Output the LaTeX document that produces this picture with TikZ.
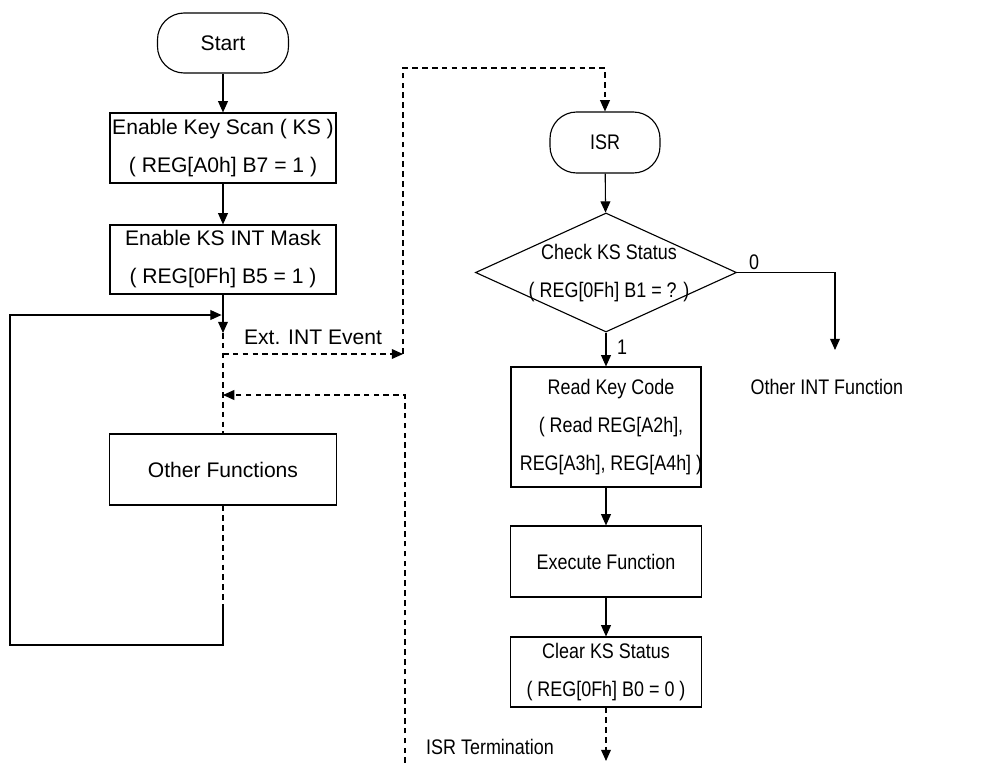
\documentclass[tikz,border=0pt]{standalone}
\usepackage{fontspec}
\setmainfont{Liberation Sans}
\newfontfamily\narrowfont[FakeStretch=0.85]{Liberation Sans}
\usetikzlibrary{arrows.meta,shapes.geometric}

\begin{document}
\begin{tikzpicture}[x=0.025cm,y=-0.025cm,line width=0.8pt,
    >={Triangle[length=8pt,width=7pt]},
    every node/.style={font=\fontsize{15}{27}\selectfont},
    narrow/.style={font=\narrowfont\fontsize{15}{27}\selectfont},
    proc/.style={draw,rectangle,align=center,inner sep=0pt},
    term/.style={draw,rounded corners=19pt,inner sep=0pt},
    dsh/.style={dash pattern=on 4pt off 3pt}]

    \useasboundingbox (0,0) rectangle (1001,763);

    % Main program
    \node[term,minimum width=3.275cm,minimum height=1.5cm] (start) at (223,43) {Start};
    \node[proc,minimum width=5.65cm,minimum height=1.75cm] (ks) at (223,148)
        {Enable Key Scan ( KS )\\( REG[A0h] B7 = 1 )};
    \node[proc,minimum width=5.65cm,minimum height=1.725cm] (mask) at (223,259.5)
        {Enable KS INT Mask\\( REG[0Fh] B5 = 1 )};
    \node[proc,minimum width=5.675cm,minimum height=1.775cm] (other) at (223,469.5)
        {Other Functions};

    \draw[->] (start) -- (ks);
    \draw[->] (ks) -- (mask);

    \coordinate (evt) at (223,333);
    \coordinate (lend) at (223,605);
    \coordinate (join) at (223,315);
    \draw[->] (mask) -- (evt);
    \draw[dsh] (evt) -- (other);
    \draw[dsh] (other) -- (lend);

    % Main loop
    \draw[->] (lend) -- (223,645) -| (10,315) -- ([xshift=-1pt]join);

    % Interrupt event and return
    \coordinate (extL) at (223,354);
    \coordinate (extR) at (403,354);
    \node (extlbl) at (313,337) {Ext. INT Event};
    \draw[dsh,->] (extL) -- (extR);

    \coordinate (retB) at (405,763);
    \coordinate (retR) at (405,395);
    \coordinate (retL) at (223,395);
    \draw[dsh,->] (retB) -- (retR) -- (retL);

    % ISR
    \node[term,narrow,minimum width=2.75cm,minimum height=1.525cm] (isr) at (605,142.5) {ISR};
    \draw[dsh,->] (extR) -- (403,68) -| (isr.north);

    \node[draw,diamond,inner sep=0pt,minimum width=6.525cm,minimum height=2.975cm] (check) at (606,272.5) {};
    \node[narrow,align=center,inner sep=0pt] (checktxt) at (609,273) {Check KS Status\\( REG[0Fh] B1 = ? )};
    \node[proc,minimum width=4.75cm,minimum height=3cm] (readkey) at (606,427) {};
    \node[narrow,align=center,inner sep=0pt] (readtxt) at (611,427)
        {Read Key Code\\( Read REG[A2h],\\REG[A3h], REG[A4h] )};
    \node[proc,narrow,minimum width=4.775cm,minimum height=1.775cm] (exec) at (606,561.5)
        {Execute Function};
    \node[proc,narrow,minimum width=4.775cm,minimum height=1.75cm] (clear) at (606,672)
        {Clear KS Status\\( REG[0Fh] B0 = 0 )};

    \draw[->] (isr) -- (check);
    \draw[->] (check) -- (readkey);
    \node[narrow] (one) at (622,347) {1};

    % Status 0 branch
    \coordinate (zr) at (835,272.5);
    \coordinate (zb) at (835,350);
    \draw[->] (check.east) -- (zr) -- (zb);
    \node[narrow] (zero) at (754,262) {0};
    \node[narrow,anchor=west,inner sep=0pt] (othint) at (750,387) {Other INT Function};

    \draw[->] (readkey) -- (exec);
    \draw[->] (exec) -- (clear);

    \coordinate (isrend) at (606,761);
    \draw[dsh,->] (clear) -- (isrend);
    \node[narrow] (termlbl) at (490,747) {ISR Termination};

\end{tikzpicture}
\end{document}
